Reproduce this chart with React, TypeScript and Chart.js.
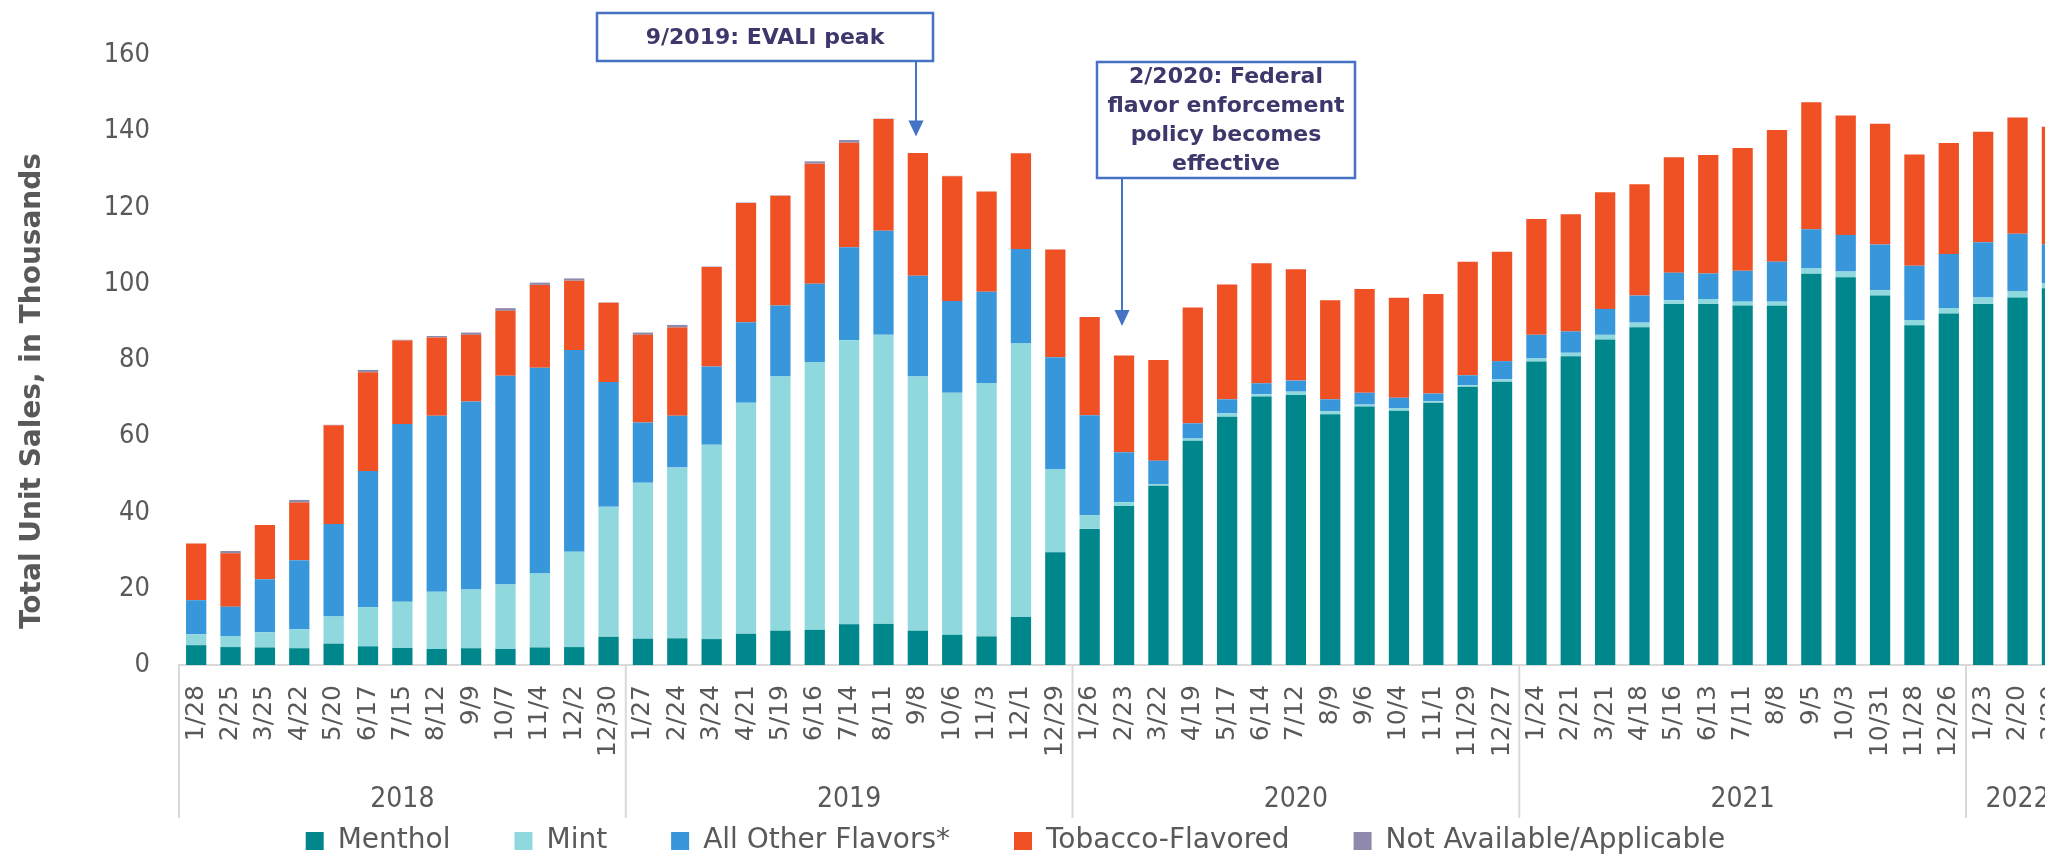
import { useEffect, useRef } from 'react';
import { Chart, registerables } from 'chart.js';

Chart.register(...registerables);

// ---------- data ----------
const weekLabels = [
  '1/28', '2/25', '3/25', '4/22', '5/20', '6/17', '7/15', '8/12', '9/9', '10/7', '11/4', '12/2', '12/30',
  '1/27', '2/24', '3/24', '4/21', '5/19', '6/16', '7/14', '8/11', '9/8', '10/6', '11/3', '12/1', '12/29',
  '1/26', '2/23', '3/22', '4/19', '5/17', '6/14', '7/12', '8/9', '9/6', '10/4', '11/1', '11/29', '12/27',
  '1/24', '2/21', '3/21', '4/18', '5/16', '6/13', '7/11', '8/8', '9/5', '10/3', '10/31', '11/28', '12/26',
  '1/23', '2/20', '3/20',
];

const yearLabels = ['2018', '2019', '2020', '2021', '2022'];
const yearSizes = [13, 13, 13, 13, 3];

const menthol = [
  5.2, 4.7, 4.6, 4.4, 5.6, 4.9, 4.5, 4.2, 4.4, 4.2, 4.6, 4.7, 7.4,
  6.9, 7.0, 6.8, 8.2, 9.0, 9.2, 10.7, 10.8, 9.0, 7.9, 7.5, 12.6, 29.6,
  35.7, 41.7, 47.0, 58.8, 65.1, 70.4, 70.8, 65.8, 67.8, 66.7, 68.8, 73.0, 74.3,
  79.6, 81.0, 85.4, 88.6, 94.7, 94.7, 94.3, 94.2, 102.6, 101.7, 96.9, 89.1, 92.2,
  94.7, 96.4, 98.8,
];

const mint = [
  2.9, 2.9, 4.0, 5.0, 7.1, 10.3, 12.1, 15.0, 15.4, 16.9, 19.4, 25.0, 34.1,
  40.9, 44.8, 51.0, 60.6, 66.7, 70.3, 74.5, 75.8, 66.7, 63.5, 66.5, 71.7, 21.8,
  3.6, 1.0, 0.4, 0.6, 0.9, 0.6, 0.9, 0.8, 0.5, 0.6, 0.4, 0.4, 0.6,
  0.8, 0.9, 1.2, 1.2, 1.0, 1.3, 1.0, 1.1, 1.4, 1.5, 1.4, 1.4, 1.4,
  1.7, 1.7, 1.3,
];

const otherFlavors = [
  8.9, 7.7, 13.9, 18.1, 24.3, 35.7, 46.6, 46.2, 49.3, 54.8, 54.0, 52.9, 32.7,
  15.8, 13.6, 20.5, 21.1, 18.6, 20.5, 24.4, 27.3, 26.4, 24.1, 23.9, 24.8, 29.3,
  26.2, 13.1, 6.2, 4.0, 3.7, 2.9, 2.9, 3.1, 3.1, 2.8, 2.0, 2.6, 4.8,
  6.2, 5.6, 6.8, 7.1, 7.2, 6.7, 8.1, 10.5, 10.3, 9.6, 12.0, 14.2, 14.2,
  14.5, 15.0, 10.2,
];

const tobacco = [
  14.9, 14.0, 14.2, 15.1, 25.9, 25.9, 21.9, 20.5, 17.5, 17.0, 21.7, 18.2, 20.8,
  23.0, 23.1, 26.1, 31.3, 28.8, 31.5, 27.4, 29.3, 32.2, 32.7, 26.3, 25.1, 28.3,
  25.8, 25.4, 26.4, 30.4, 30.1, 31.5, 29.2, 26.0, 27.2, 26.2, 26.1, 29.8, 28.7,
  30.4, 30.7, 30.6, 29.2, 30.3, 31.1, 32.2, 34.5, 33.3, 31.3, 31.7, 29.2, 29.1,
  29.0, 30.5, 30.9,
];

const notAvailable = [
  0, 0.6, 0, 0.7, 0.1, 0.6, 0.2, 0.4, 0.6, 0.7, 0.6, 0.6, 0.1,
  0.6, 0.7, 0.1, 0.1, 0.1, 0.6, 0.7, 0.1, 0, 0.1, 0, 0, 0,
  0, 0, 0, 0, 0, 0, 0, 0, 0, 0, 0, 0, 0,
  0, 0, 0, 0, 0, 0, 0, 0, 0, 0, 0, 0, 0,
  0, 0, 0,
];

const seriesNames = ['Menthol', 'Mint', 'All Other Flavors*', 'Tobacco-Flavored', 'Not Available/Applicable'];

const yMin = 0;
const yMax = 160;
const yStep = 20;

const yAxisTitle = 'Total Unit Sales, in Thousands';

const eventNotes = [
  { index: 21, lines: ['9/2019: EVALI peak'], tipValue: 138.6 },
  { index: 27, lines: ['2/2020: Federal', 'flavor enforcement', 'policy becomes', 'effective'], tipValue: 88.9 },
];

// ---------- styles ----------
const COLORS = ['#00878C', '#8FD8DE', '#3797DA', '#F05124', '#8E8AAB'];
const TEXT_GRAY = '#595959';
const LINE_GRAY = '#D9D9D9';
const NOTE_BLUE = '#4472C4';
const NOTE_TEXT = '#3C386C';
const NARROW = '"DejaVu Sans Condensed", "Liberation Sans", sans-serif';
const WIDE = '"DejaVu Sans", Verdana, sans-serif';

// box geometry for each note (pixels): dx from arrow x, top, width, height
const noteBoxes = [
  { dx: -319, top: 13, width: 336, height: 48, lineGap: 29 },
  { dx: -25, top: 62, width: 258, height: 116, lineGap: 29 },
];

const decorations = {
  id: 'decorations',
  afterDraw(chart: any) {
    const { ctx, chartArea, scales } = chart;
    const xs = scales.x;
    const ys = scales.y;
    ctx.save();

    // year group labels and dividers
    const step = xs.getPixelForValue(1) - xs.getPixelForValue(0);
    let start = 0;
    const boundaries: number[] = [];
    ctx.fillStyle = TEXT_GRAY;
    ctx.font = `28px ${NARROW}`;
    ctx.textAlign = 'center';
    ctx.textBaseline = 'middle';
    yearLabels.forEach((label, gi) => {
      const n = yearSizes[gi];
      const left = xs.getPixelForValue(start) - step / 2;
      const right = xs.getPixelForValue(start + n - 1) + step / 2;
      boundaries.push(left);
      ctx.fillText(label, (left + right) / 2, 800);
      start += n;
    });
    ctx.strokeStyle = LINE_GRAY;
    ctx.lineWidth = 2;
    boundaries.forEach((bx) => {
      ctx.beginPath();
      ctx.moveTo(bx, chartArea.bottom);
      ctx.lineTo(bx, 818);
      ctx.stroke();
    });

    // y axis title
    ctx.save();
    ctx.translate(33, 391);
    ctx.rotate(-Math.PI / 2);
    ctx.font = `bold 28px ${WIDE}`;
    ctx.fillStyle = TEXT_GRAY;
    ctx.textAlign = 'center';
    ctx.textBaseline = 'middle';
    ctx.fillText(yAxisTitle, 0, 0);
    ctx.restore();

    // event notes
    eventNotes.forEach((note, ni) => {
      const box = noteBoxes[ni];
      const ax = Math.round(xs.getPixelForValue(note.index)) - 2;
      const tipY = ys.getPixelForValue(note.tipValue);
      const bx = ax + box.dx;
      const bottom = box.top + box.height;
      // arrow
      ctx.strokeStyle = NOTE_BLUE;
      ctx.fillStyle = NOTE_BLUE;
      ctx.lineWidth = 2;
      ctx.beginPath();
      ctx.moveTo(ax, bottom);
      ctx.lineTo(ax, tipY - 15);
      ctx.stroke();
      ctx.beginPath();
      ctx.moveTo(ax - 7.5, tipY - 16);
      ctx.lineTo(ax + 7.5, tipY - 16);
      ctx.lineTo(ax, tipY);
      ctx.closePath();
      ctx.fill();
      // box
      ctx.fillStyle = '#FFFFFF';
      ctx.fillRect(bx, box.top, box.width, box.height);
      ctx.lineWidth = 2.5;
      ctx.strokeRect(bx, box.top, box.width, box.height);
      // text
      ctx.fillStyle = NOTE_TEXT;
      ctx.font = `bold 22px ${WIDE}`;
      ctx.textAlign = 'center';
      ctx.textBaseline = 'middle';
      const cy = box.top + box.height / 2;
      const firstY = cy - ((note.lines.length - 1) * box.lineGap) / 2;
      note.lines.forEach((line, li) => {
        ctx.fillText(line, bx + box.width / 2, firstY + li * box.lineGap + 1);
      });
    });

    ctx.restore();
  },
};

export default function App() {
  const canvasRef = useRef<HTMLCanvasElement | null>(null);

  useEffect(() => {
    if (!canvasRef.current) return;
    const series = [menthol, mint, otherFlavors, tobacco, notAvailable];
    const chart = new Chart(canvasRef.current, {
      type: 'bar',
      data: {
        labels: weekLabels,
        datasets: series.map((values, i) => ({
          label: seriesNames[i],
          data: values,
          backgroundColor: COLORS[i],
          borderWidth: 0,
          barPercentage: 0.59,
          categoryPercentage: 1,
        })),
      },
      options: {
        animation: false,
        responsive: false,
        devicePixelRatio: 1,
        layout: { padding: { left: -60, right: 11, top: 55, bottom: -8 } },
        plugins: {
          tooltip: { enabled: false },
          legend: {
            position: 'bottom',
            align: 'center',
            labels: {
              boxWidth: 18,
              boxHeight: 18,
              padding: 64,
              color: TEXT_GRAY,
              font: { size: 28, family: WIDE },
            },
          },
        },
        scales: {
          x: {
            stacked: true,
            grid: { display: false, drawTicks: false },
            border: { display: true, color: LINE_GRAY, width: 2 },
            ticks: {
              autoSkip: false,
              minRotation: 90,
              maxRotation: 90,
              padding: 20,
              color: TEXT_GRAY,
              font: { size: 25, family: WIDE },
            },
            afterFit(scale: any) {
              scale.height = 98;
            },
          },
          y: {
            stacked: true,
            min: yMin,
            max: yMax,
            grid: { display: false, drawTicks: false },
            border: { display: false },
            ticks: {
              stepSize: yStep,
              padding: 29,
              color: TEXT_GRAY,
              font: { size: 27, family: NARROW },
            },
            afterFit(scale: any) {
              scale.width = 239;
            },
          },
        },
      },
      plugins: [decorations],
    });
    return () => chart.destroy();
  }, []);

  return (
    <div
      style={{
        position: 'fixed',
        left: 0,
        top: 0,
        width: 2045,
        height: 857,
        overflow: 'hidden',
        background: '#FFFFFF',
      }}
    >
      <canvas ref={canvasRef} width={2102} height={857} style={{ display: 'block' }} />
    </div>
  );
}
